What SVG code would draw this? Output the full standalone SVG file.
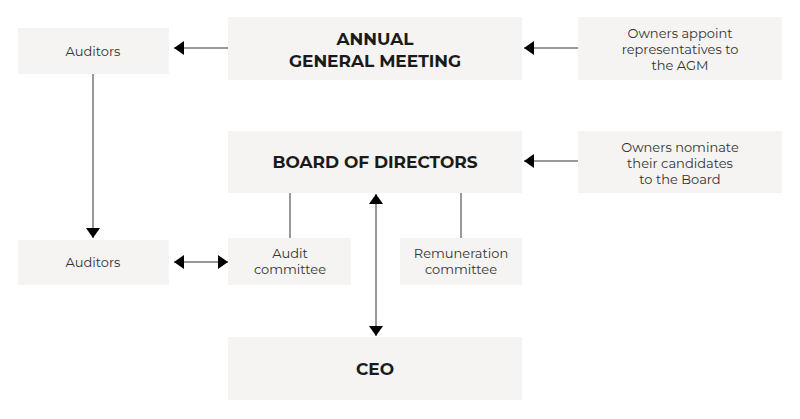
<svg xmlns="http://www.w3.org/2000/svg" width="800" height="419" viewBox="0 0 800 419">
<style>
.n{fill:#f5f4f2}
.t{font-family:"Montserrat","Liberation Sans",sans-serif;font-size:13px;fill:#333;text-anchor:middle}
.b{font-family:"Montserrat","Liberation Sans",sans-serif;font-size:17px;font-weight:bold;fill:#1a1a1a;text-anchor:middle}
.c{stroke:#333;stroke-width:1;fill:none}
</style>
<defs>
<marker id="a" viewBox="0 0 10 14" refX="10" refY="7" markerWidth="10" markerHeight="14" markerUnits="userSpaceOnUse" orient="auto-start-reverse"><path d="M0,0L10,7L0,14Z" fill="#000"/></marker>
</defs>
<rect width="800" height="419" fill="#fff"/>
<g id="auditors1"><rect class="n" x="18" y="28" width="151" height="46"/><text class="t" x="93" y="56">Auditors</text></g>
<g id="agm"><rect class="n" x="228" y="17" width="294" height="63"/><text class="b" x="375" y="45">ANNUAL</text><text class="b" x="375" y="67">GENERAL MEETING</text></g>
<g id="owners1"><rect class="n" x="578" y="17" width="204" height="63"/><text class="t" x="680" y="38">Owners appoint</text><text class="t" x="680" y="54">representatives to</text><text class="t" x="680" y="70">the AGM</text></g>
<g id="board"><rect class="n" x="228" y="131" width="294" height="62"/><text class="b" x="375" y="168">BOARD OF DIRECTORS</text></g>
<g id="owners2"><rect class="n" x="578" y="131" width="204" height="62"/><text class="t" x="680" y="152">Owners nominate</text><text class="t" x="680" y="168">their candidates</text><text class="t" x="680" y="184">to the Board</text></g>
<g id="auditors2"><rect class="n" x="18" y="240" width="151" height="45"/><text class="t" x="93" y="267">Auditors</text></g>
<g id="audit"><rect class="n" x="228" y="238" width="123" height="47"/><text class="t" x="290" y="258">Audit</text><text class="t" x="290" y="274">committee</text></g>
<g id="remun"><rect class="n" x="400" y="238" width="122" height="47"/><text class="t" x="461" y="258">Remuneration</text><text class="t" x="461" y="274">committee</text></g>
<g id="ceo"><rect class="n" x="228" y="337" width="294" height="63"/><text class="b" x="375" y="375">CEO</text></g>
<g id="connectors">
<line class="c" x1="228" y1="48" x2="174" y2="48" marker-end="url(#a)"/>
<line class="c" x1="578" y1="48" x2="524" y2="48" marker-end="url(#a)"/>
<line class="c" x1="578" y1="161" x2="524" y2="161" marker-end="url(#a)"/>
<line class="c" x1="93" y1="74" x2="93" y2="238" marker-end="url(#a)"/>
<line class="c" x1="174" y1="262" x2="228" y2="262" marker-start="url(#a)" marker-end="url(#a)"/>
<line class="c" x1="290" y1="193" x2="290" y2="238"/>
<line class="c" x1="461" y1="193" x2="461" y2="238"/>
<line class="c" x1="376" y1="194" x2="376" y2="336" marker-start="url(#a)" marker-end="url(#a)"/>
</g>
</svg>
